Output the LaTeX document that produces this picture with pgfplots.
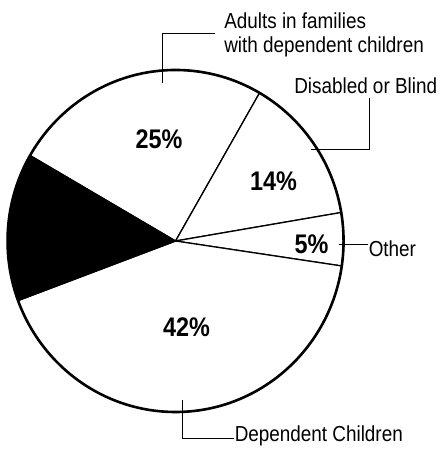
\documentclass[border=0pt]{standalone}
\usepackage{fontspec}
\setmainfont{Liberation Sans}[FakeStretch=0.87]
\usepackage{pgfplots}
\pgfplotsset{compat=1.18}
\begin{document}
\begin{tikzpicture}
\begin{axis}[scale only axis, width=438bp, height=451bp,
  xmin=0, xmax=438, ymin=0, ymax=451, hide axis, clip=false]
\path (axis cs:0,0) (axis cs:438,451);
\def\cx{174}\def\cy{210}
\def\startangle{150}
\pgfplotsforeachungrouped \v/\c in {25/white,14/white,5/white,42/white,14/black}{%
  \pgfmathsetmacro\endangle{\startangle-3.6*\v}%
  \edef\temp{\noexpand\filldraw[fill=\c, draw=black, line width=1.3bp] (axis cs:\cx,\cy) -- ++(\startangle:168bp and 171bp) arc[start angle=\startangle, end angle=\endangle, x radius=168bp, y radius=171bp] -- cycle;}%
  \temp
  \global\let\startangle\endangle
}
\draw[line width=2.6bp] (axis cs:\cx,\cy) ellipse[x radius=168bp, y radius=171bp];
% leader lines
\draw[line width=1bp] (axis cs:213,417) -- (axis cs:161,417) -- (axis cs:161,368);
\draw[line width=1bp] (axis cs:368,353) -- (axis cs:368,301) -- (axis cs:309,301);
\draw[line width=1bp] (axis cs:337,206) -- (axis cs:366,206);
\draw[line width=1bp] (axis cs:181,51) -- (axis cs:181,12) -- (axis cs:232,12);
% labels
\tikzset{lab/.style={inner sep=0pt, anchor=base west, font=\fontsize{21.8}{24}\selectfont}}
\node[lab] at (axis cs:222.5,422.7) {Adults in families};
\node[lab] at (axis cs:222.5,398.7) {with dependent children};
\node[lab] at (axis cs:292.5,357.7) {Disabled or Blind};
\node[lab] at (axis cs:367,194.3) {Other};
\node[lab] at (axis cs:233,10) {Dependent Children};
\tikzset{pct/.style={inner sep=0pt, anchor=center, font=\fontsize{27}{30}\selectfont\bfseries}}
\node[pct] at (axis cs:157.5,311.5) {25\%};
\node[pct] at (axis cs:272,270) {14\%};
\node[pct] at (axis cs:310,207) {5\%};
\node[pct] at (axis cs:185,124) {42\%};
\end{axis}
\end{tikzpicture}
\end{document}
